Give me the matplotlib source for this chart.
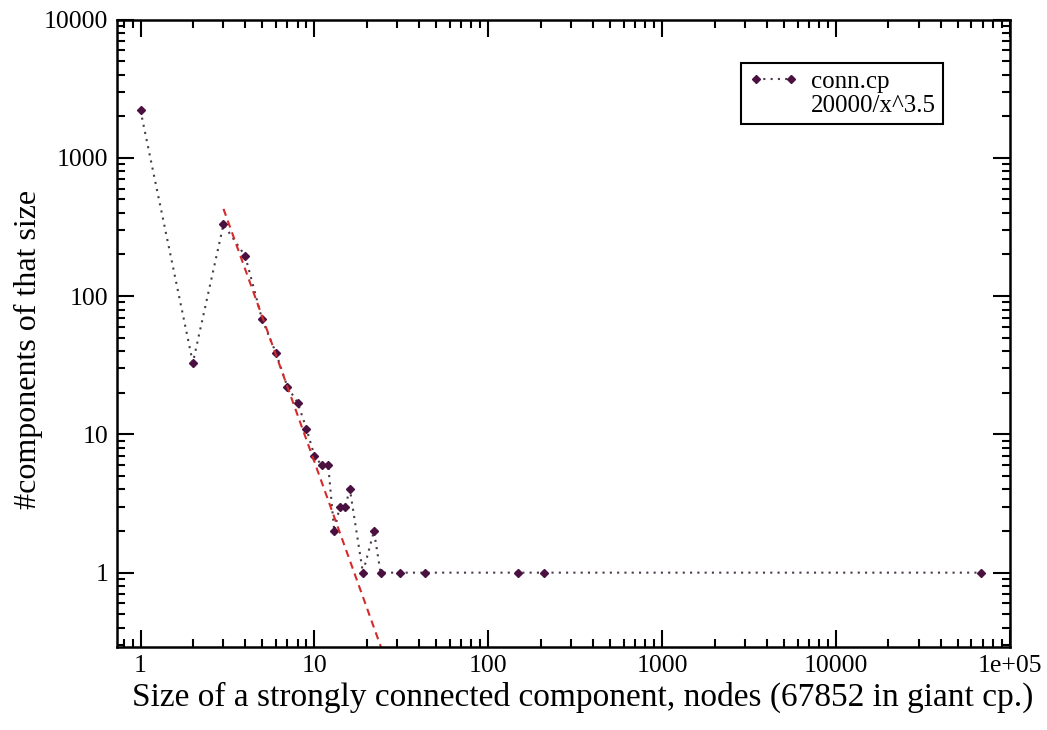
import numpy as np
import matplotlib
matplotlib.use("Agg")
import matplotlib.pyplot as plt
from matplotlib.lines import Line2D

# ---- data ----
sizes = [1, 2, 3, 4, 5, 6, 7, 8, 9, 10, 11, 12, 13, 14, 15, 16, 19, 22, 24, 31, 43, 149, 208, 67852]
counts = [2200, 33, 330, 195, 68, 39, 22, 17, 11, 7, 6, 6, 2, 3, 3, 4, 1, 2, 1, 1, 1, 1, 1, 1]
fit_coef = 20000
fit_exp = 3.5
fit_x = np.linspace(3, 30, 200)
fit_y = fit_coef / fit_x ** fit_exp

xticks = [1, 10, 100, 1000, 10000, 100000]
xticklabels = ["1", "10", "100", "1000", "10000", "1e+05"]
yticks = [1, 10, 100, 1000, 10000]
yticklabels = ["1", "10", "100", "1000", "10000"]

series_label = "conn.cp"
fit_label = "20000/x^3.5"
xlabel = "Size of a strongly connected component, nodes (67852 in giant cp.)"
ylabel = "#components of that size"

plt.rcParams['font.family'] = ['Liberation Serif', 'DejaVu Serif']

fig = plt.figure(figsize=(10.47, 7.30), dpi=100)
ax = fig.add_axes([0.1115, 0.1137, 0.8532, 0.8595])

data_color = '#4a1040'
line, = ax.plot(sizes, counts, linestyle=(0, (1, 2.5)), linewidth=1.5, color='#4a3a4a',
                marker='D', markersize=4.5, markerfacecolor=data_color,
                markeredgecolor=data_color, label=series_label)
ax.plot(fit_x, fit_y, linestyle=(0, (3.5, 2.5)), linewidth=1.5, color='#d42a2a', label=fit_label)

ax.set_xscale('log')
ax.set_yscale('log')
ax.set_xlim(0.73, 1.0e5)
ax.set_ylim(0.29, 10000)

ax.set_xticks(xticks)
ax.set_xticklabels(xticklabels)
ax.set_yticks(yticks)
ax.set_yticklabels(yticklabels)

ax.tick_params(which='both', direction='in', top=True, right=True, labelsize=18.5, width=1.5)
ax.tick_params(which='major', length=12, pad=6)
ax.tick_params(which='minor', length=6)
for s in ax.spines.values():
    s.set_linewidth(1.8)

ax.set_xlabel(xlabel, fontsize=24)
ax.xaxis.set_label_coords(0.522, -0.056)
ax.set_ylabel(ylabel, fontsize=23)
ax.yaxis.set_label_coords(-0.082, 0.475)

inv = Line2D([], [], linestyle='none', marker=None)
leg = ax.legend([line, inv], [series_label, fit_label], loc='upper right',
                bbox_to_anchor=(0.925, 0.931), borderaxespad=0, fontsize=18,
                numpoints=2, handlelength=2.0, handletextpad=0.5,
                fancybox=False, framealpha=1, edgecolor='black',
                borderpad=0.3, labelspacing=0.05)
leg.get_frame().set_linewidth(1.5)

fig.savefig('out.png', dpi=100)
